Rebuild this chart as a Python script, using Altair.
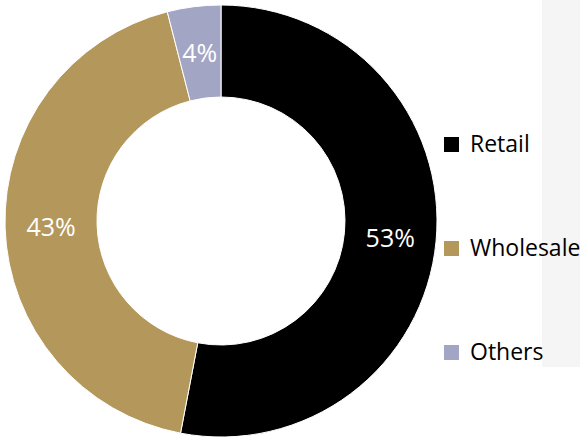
import altair as alt
import pandas as pd

categories = ["Retail", "Wholesale", "Others"]
values = [53, 43, 4]
labels = ["53%", "43%", "4%"]
colors = ["#000000", "#b4985b", "#a3a5c5"]

df = pd.DataFrame({
    "category": categories,
    "value": values,
    "label": labels,
    "order": list(range(len(categories))),
})

FONT = "Open Sans"

bg = alt.Chart(pd.DataFrame({"a": [0]})).mark_rect(color="#f5f5f5").encode(
    x=alt.value(542), x2=alt.value(580), y=alt.value(0), y2=alt.value(367)
)

base = alt.Chart(df).encode(
    theta=alt.Theta("value:Q", stack=True),
    order=alt.Order("order:Q"),
)

arcs = base.mark_arc(outerRadius=216, innerRadius=124, stroke="white", strokeWidth=1).encode(
    x=alt.value(221),
    y=alt.value(221),
    color=alt.Color(
        "category:N",
        sort=categories,
        scale=alt.Scale(domain=categories, range=colors),
        legend=alt.Legend(
            title=None,
            orient="none",
            legendX=440,
            legendY=133,
            symbolType="square",
            symbolSize=225,
            symbolStrokeWidth=0,
            labelFontSize=23,
            labelFont=FONT,
            labelColor="#000000",
            labelOffset=7,
            rowPadding=80,
        ),
    ),
)

text = base.mark_text(radius=170, fontSize=25, font=FONT, color="white").encode(
    x=alt.value(221),
    y=alt.value(223),
    text="label:N",
)

chart = alt.layer(bg, arcs, text).properties(
    width=580, height=437, autosize=alt.AutoSizeParams(type="none"), padding=0
).configure_view(stroke=None)

chart.save("out.html", embed_options={"renderer": "svg", "actions": False})
